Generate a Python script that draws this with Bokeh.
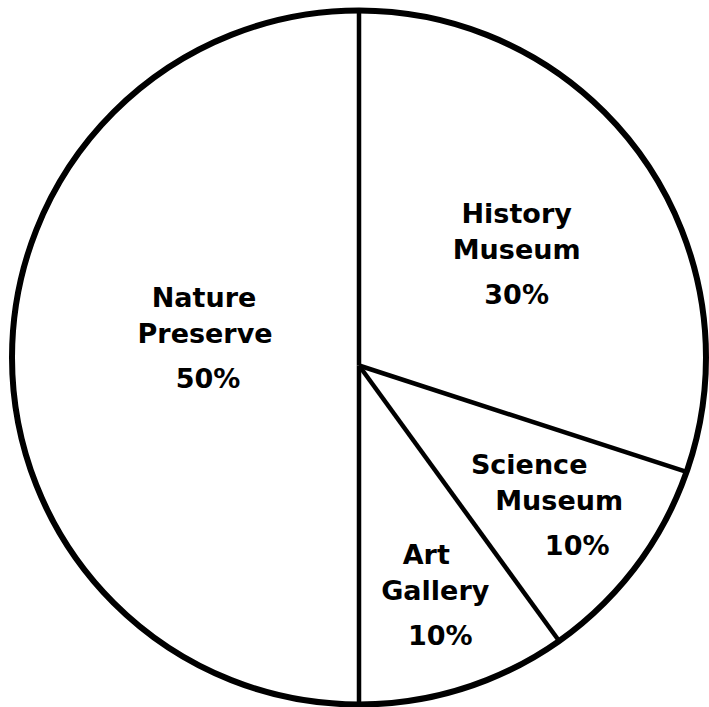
import numpy as np
from bokeh.plotting import figure
from bokeh.models import Range1d, ColumnDataSource
from bokeh.embed import file_html
from bokeh.resources import INLINE
from bokeh.core.properties import value

# ---- data ----
categories = ["History Museum", "Science Museum", "Art Gallery", "Nature Preserve"]
label_lines = [["History", "Museum"], ["Science", "Museum"], ["Art", "Gallery"], ["Nature", "Preserve"]]
shares = [30, 10, 10, 50]
pct_labels = ["30%", "10%", "10%", "50%"]

# ---- layout / style ----
W, H = 709, 707
CX, CY = 358.5, 357        # circle centre (px, y down)
R = 347                    # radius
HUB_DY = 8                 # radial lines meet slightly below centre
LABEL_R = [0.548, 0.713, 0.711, 0.448]
LABEL_DANG = [-2, 0, 0, -8]
LINE_DY = [-46, -10, 35]
LINE_DX = [[0, 0, 0], [-30, 0, 18], [-9, 0, 5], [-1, 0, 3]]
FONT = "DejaVu Sans"
FONT_SIZE = "27px"

p = figure(width=W, height=H, x_range=Range1d(0, W), y_range=Range1d(H, 0),
           output_backend="svg", toolbar_location=None, min_border=0,
           x_axis_type=None, y_axis_type=None)
p.grid.visible = False
p.outline_line_color = None
p.background_fill_color = "white"
p.border_fill_color = "white"

hx, hy = CX, CY + HUB_DY
total = float(sum(shares))
cum = np.concatenate([[0.0], np.cumsum(shares)])
bound_deg = 90.0 - 360.0 * cum / total   # clockwise from top


def ray_end(theta_deg):
    th = np.radians(theta_deg)
    d = np.array([np.cos(th), -np.sin(th)])
    f = np.array([hx - CX, hy - CY])
    b = f @ d
    t = -b + np.sqrt(b * b - f @ f + R * R)
    return hx + t * d[0], hy + t * d[1]


# slice fills (white)
xs, ys = [], []
for i in range(len(shares)):
    x0, y0 = ray_end(bound_deg[i])
    x1, y1 = ray_end(bound_deg[i + 1])
    a0 = np.arctan2(-(y0 - CY), x0 - CX)
    a1 = np.arctan2(-(y1 - CY), x1 - CX)
    while a1 > a0:
        a1 -= 2 * np.pi
    arc = np.linspace(a0, a1, 80)
    xs.append([hx] + list(CX + R * np.cos(arc)))
    ys.append([hy] + list(CY - R * np.sin(arc)))
p.patches(xs=xs, ys=ys, fill_color="white", line_color=None)

# radial boundary lines
ends = [ray_end(a) for a in bound_deg[:-1]]
p.segment(x0=[hx] * len(ends), y0=[hy] * len(ends),
          x1=[e[0] for e in ends], y1=[e[1] for e in ends],
          line_color="black", line_width=4.5)

# outer circle
p.circle(x=[CX], y=[CY], radius=R, fill_color=None, line_color="black", line_width=6)

# labels
tx, ty, tt = [], [], []
for i in range(len(shares)):
    mid = (bound_deg[i] + bound_deg[i + 1]) / 2.0 + LABEL_DANG[i]
    rr = LABEL_R[i] * R
    ax = hx + rr * np.cos(np.radians(mid))
    ay = hy - rr * np.sin(np.radians(mid))
    lines = label_lines[i] + [pct_labels[i]]
    for k, txt in enumerate(lines):
        tx.append(ax + LINE_DX[i][k])
        ty.append(ay + LINE_DY[k])
        tt.append(txt)
src = ColumnDataSource(dict(x=tx, y=ty, text=tt))
p.text(x="x", y="y", text="text", source=src, text_font=value(FONT),
       text_font_style="bold", text_font_size=value(FONT_SIZE),
       text_align="center", text_baseline="alphabetic", text_color="black")

open("out.html", "w").write(file_html(p, INLINE))
